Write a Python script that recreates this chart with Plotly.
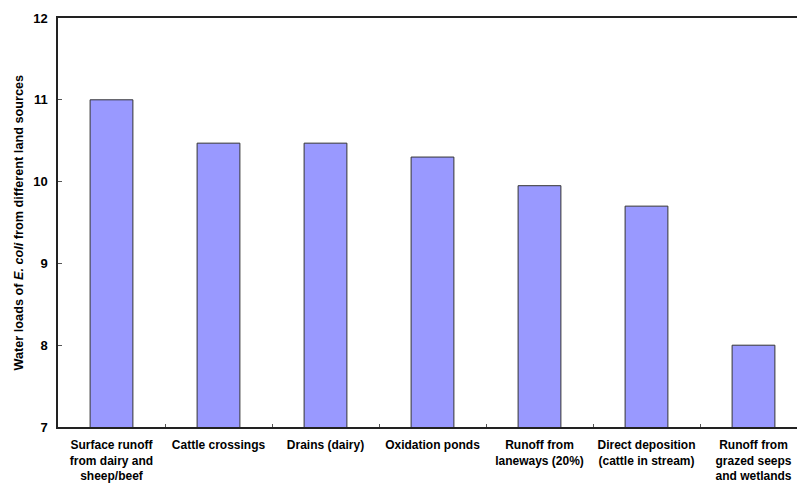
import plotly.graph_objects as go

categories = [
    "Surface runoff<br>from dairy and<br>sheep/beef",
    "Cattle crossings",
    "Drains (dairy)",
    "Oxidation ponds",
    "Runoff from<br>laneways (20%)",
    "Direct deposition<br>(cattle in stream)",
    "Runoff from<br>grazed seeps<br>and wetlands",
]
values = [11.0, 10.47, 10.47, 10.30, 9.95, 9.70, 8.0]
y_ticks = [7, 8, 9, 10, 11, 12]
y_title = "Water loads of <i>E. coli</i> from different land sources"

W, H = 797, 483
ml, mr, mt, mb = 58, 0, 18, 56
plot_w = W - ml - mr

fig = go.Figure()
fig.add_trace(go.Bar(
    x=categories, y=values, width=0.40,
    marker=dict(color="#9999FF", line=dict(color="#333333", width=1)),
))

font_family = "Liberation Sans, Arial, sans-serif"
fig.update_layout(
    width=W, height=H,
    margin=dict(l=ml, r=mr, t=mt, b=mb, autoexpand=False),
    paper_bgcolor="white", plot_bgcolor="white",
    showlegend=False,
    font=dict(family=font_family, size=12, color="black"),
)
fig.update_xaxes(
    type="category",
    range=[-0.5, -0.5 + plot_w / 107.0],
    showline=True, linecolor="#222222", linewidth=1.5, mirror=True,
    ticks="inside", ticklen=3, tickcolor="#555555", tickwidth=1,
    tickson="boundaries",
    tickangle=0,
    tickfont=dict(family=font_family, size=12, weight="bold", color="black"),
    ticklabelstandoff=6,
    showgrid=False, zeroline=False,
)
fig.update_yaxes(
    range=[7, 12],
    tickvals=y_ticks,
    ticktext=[str(v) for v in y_ticks],
    showline=True, linecolor="#222222", linewidth=1.5,
    ticks="inside", ticklen=4, tickcolor="#555555", tickwidth=1,
    tickfont=dict(family=font_family, size=13, weight="bold", color="black"),
    ticklabelstandoff=6,
    showgrid=False, zeroline=False,
)
fig.add_annotation(
    text=y_title, textangle=-90,
    xref="paper", yref="paper",
    x=(18 - ml) / plot_w, y=0.5,
    xanchor="center", yanchor="middle",
    showarrow=False,
    font=dict(family=font_family, size=12.7, weight="bold", color="black"),
)

fig.write_html("out.html")
